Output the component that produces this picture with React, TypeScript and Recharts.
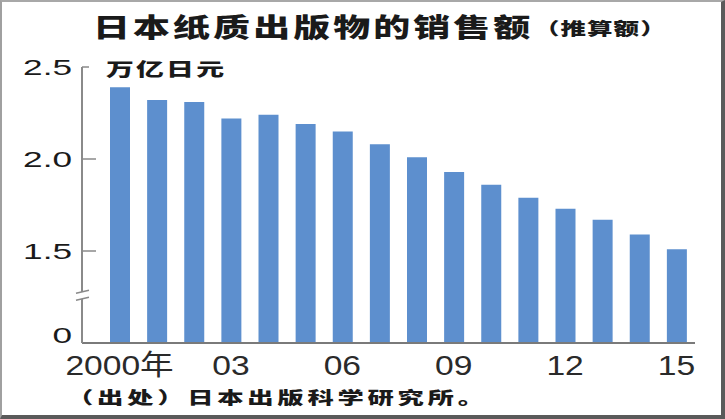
import React from 'react';
import { BarChart, Bar, XAxis, YAxis } from 'recharts';

// Printed-paper publication sales in Japan, trillion yen
const YEARS = ['2000年', '01', '02', '03', '04', '05', '06', '07', '08', '09', '10', '11', '12', '13', '14', '15'];
const SALES = [2.39, 2.32, 2.31, 2.22, 2.24, 2.19, 2.15, 2.08, 2.01, 1.93, 1.86, 1.79, 1.73, 1.67, 1.59, 1.51];

// broken axis: the bottom of the plot stands for 0, the rest is linear from 1.5
const Y_TICKS = [1.0, 1.5, 2.0, 2.5];
const Y_LABELS = ['0', '1.5', '2.0', '2.5'];
const BREAK_AT = 1.26;

const TITLE = '日本纸质出版物的销售额';
const TITLE_NOTE = '（推算额）';
const UNIT = '万亿日元';
const SOURCE = '（出处）日本出版科学研究所。';

const data = YEARS.map((year, i) => ({ year, sales: SALES[i] }));

const LATIN = '"Liberation Sans", Arial, "Noto Sans CJK SC", sans-serif';
const CJK = '"Noto Sans CJK SC", "Noto Sans", sans-serif';
const AXIS = '#8a8a8a';
const INK = '#1a1a1a';

function YTick(props: any) {
  const { x, y, payload } = props;
  const v = payload.value;
  const axisX = x + 10;
  if (v === BREAK_AT) {
    return (
      <g>
        <polygon
          points={`${axisX - 6},${y - 2} ${axisX + 7},${y - 5} ${axisX + 7},${y + 2} ${axisX - 6},${y + 5}`}
          fill="#fff"
        />
        <line x1={axisX - 6} y1={y - 2} x2={axisX + 7} y2={y - 5} stroke={AXIS} strokeWidth={1.5} />
        <line x1={axisX - 6} y1={y + 5} x2={axisX + 7} y2={y + 2} stroke={AXIS} strokeWidth={1.5} />
      </g>
    );
  }
  const idx = Y_TICKS.indexOf(v);
  const isTop = v === Y_TICKS[Y_TICKS.length - 1];
  const isBase = v === Y_TICKS[0];
  return (
    <g>
      {!isBase && (
        <line x1={axisX} y1={y} x2={axisX + (isTop ? 7 : 14)} y2={y} stroke={AXIS} strokeWidth={1.5} />
      )}
      <text
        transform={`translate(${x},${isBase ? y : y + 8}) scale(1.6,1)`}
        textAnchor="end"
        fontSize={22}
        fontFamily={LATIN}
        fill={INK}
      >
        {Y_LABELS[idx]}
      </text>
    </g>
  );
}

function XTick(props: any) {
  const { x, y, payload } = props;
  return (
    <text
      transform={`translate(${x},${y + 24}) scale(1.2,1)`}
      textAnchor="middle"
      fontSize={28}
      fontFamily={LATIN}
      fill="#2a2a2a"
    >
      {payload.value}
    </text>
  );
}

export default function App() {
  return (
    <div style={{ position: 'fixed', left: 0, top: 0, width: 725, height: 419, background: '#fff' }}>
      <div style={{ position: 'absolute', left: 0, top: 0 }}>
        <BarChart width={725} height={419} data={data} margin={{ top: 67, right: 30, left: 22, bottom: 36 }}>
          <XAxis
            dataKey="year"
            height={40}
            interval={2}
            padding={{ left: 19, right: 0 }}
            tickLine={false}
            axisLine={{ stroke: '#7a7a7a', strokeWidth: 2 }}
            tick={<XTick />}
          />
          <YAxis
            type="number"
            width={60}
            domain={[Y_TICKS[0], Y_TICKS[Y_TICKS.length - 1]]}
            allowDataOverflow
            ticks={[...Y_TICKS, BREAK_AT]}
            interval={0}
            tickSize={0}
            tickMargin={10}
            tickLine={false}
            axisLine={{ stroke: AXIS, strokeWidth: 2 }}
            tick={<YTick />}
          />
          <Bar dataKey="sales" fill="#5d8fce" barSize={20} isAnimationActive={false} />
        </BarChart>
      </div>

      {/* titles and source */}
      <svg width={725} height={419} style={{ position: 'absolute', left: 0, top: 0, pointerEvents: 'none' }}>
        <text
          transform="translate(93,37) scale(1.42,1)"
          fontSize={26}
          fontWeight={900}
          letterSpacing={2.2}
          fontFamily={CJK}
          fill={INK}
        >
          {TITLE}
        </text>
        <text
          transform="translate(534,35) scale(1.5,1)"
          fontSize={17}
          fontWeight={900}
          letterSpacing={0.7}
          fontFamily={CJK}
          fill={INK}
        >
          {TITLE_NOTE}
        </text>
        <text
          transform="translate(106,76) scale(1.55,1)"
          fontSize={18}
          fontWeight={900}
          letterSpacing={1.4}
          fontFamily={CJK}
          fill={INK}
        >
          {UNIT}
        </text>
        <text
          transform="translate(67,404) scale(1.55,1)"
          fontSize={17}
          fontWeight={900}
          letterSpacing={2.4}
          fontFamily={CJK}
          fill={INK}
        >
          {SOURCE}
        </text>
      </svg>

      {/* picture frame */}
      <div
        style={{
          position: 'absolute',
          inset: 0,
          boxSizing: 'border-box',
          borderTop: '2px solid #a8a8a8',
          borderLeft: '2px solid #a0a0a0',
          borderRight: '4px solid #5a5a5a',
          borderBottom: '4px solid #5a5a5a',
          pointerEvents: 'none',
        }}
      />
    </div>
  );
}
